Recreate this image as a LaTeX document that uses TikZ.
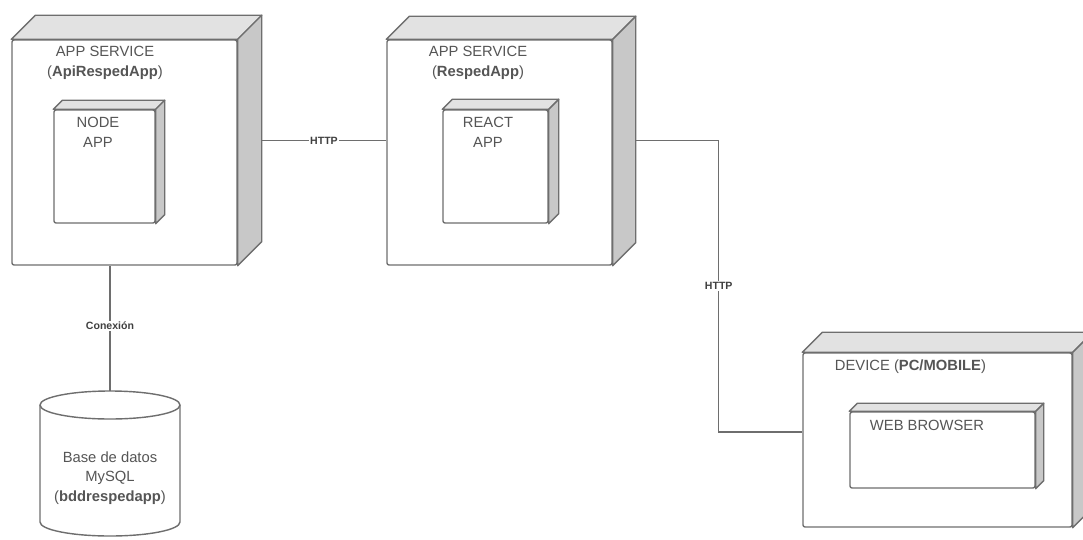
\documentclass[tikz,border=0pt]{standalone}
\usepackage{fontspec}
\setmainfont{Liberation Sans}

\definecolor{linegray}{RGB}{110,110,110}
\definecolor{topgray}{RGB}{226,226,226}
\definecolor{sidegray}{RGB}{200,200,200}
\definecolor{textgray}{RGB}{85,85,85}

\newcommand{\boxdepth}[2]{%
  \draw[boxline,fill=topgray] (#1.north west) -- ++(#2,#2) -- ([shift={(#2,#2)}]#1.north east) -- (#1.north east) -- cycle;
  \draw[boxline,fill=sidegray] (#1.north east) -- ++(#2,#2) -- ([shift={(#2,#2)}]#1.south east) -- (#1.south east) -- cycle;
}

\begin{document}
\begin{tikzpicture}[
  x=0.025cm, y=0.025cm,
  boxline/.style={draw=linegray, line width=1pt, line join=round},
  devbox/.style={
    rectangle,
    boxline,
    fill=white,
    rounded corners=1.5pt,
    inner sep=0pt
  },
  txt/.style={
    text=textgray,
    align=center,
    font=\fontsize{10.5}{14}\selectfont
  },
  wire/.style={draw=linegray, line width=0.8pt},
  wirelabel/.style={
    fill=white,
    inner sep=1pt,
    text=black!75,
    font=\fontsize{7.5}{9}\selectfont\bfseries
  }
]
  \useasboundingbox (0,0) rectangle (1083,-539);

  \node[devbox,minimum width=5.625cm,minimum height=5.625cm] (api) at (124.5,-152.5) {};
  \boxdepth{api}{24}
  \node[txt] (apititle) at (105,-63) {APP SERVICE\\(\textbf{ApiRespedApp})};
  \node[devbox,minimum width=2.525cm,minimum height=2.825cm] (nodeapp) at (104.5,-166.5) {};
  \boxdepth{nodeapp}{9}
  \node[txt] (nodeapptitle) at (98,-132.5) {NODE\\APP};

  \node[devbox,minimum width=5.625cm,minimum height=5.625cm] (resped) at (499.5,-152.5) {};
  \boxdepth{resped}{23}
  \node[txt] (respedtitle) at (478,-63) {APP SERVICE\\(\textbf{RespedApp})};
  \node[devbox,minimum width=2.625cm,minimum height=2.825cm] (reactapp) at (495.5,-166.5) {};
  \boxdepth{reactapp}{10}
  \node[txt] (reactapptitle) at (488,-132.5) {REACT\\APP};

  \node[devbox,minimum width=6.725cm,minimum height=4.35cm] (device) at (937.5,-440) {};
  \boxdepth{device}{20}
  \node[txt,anchor=west] (devicetitle) at (830,-367) {DEVICE (\textbf{PC/MOBILE})};
  \node[devbox,minimum width=4.625cm,minimum height=1.9cm] (browser) at (942.5,-450) {};
  \boxdepth{browser}{8}
  \node[txt,anchor=west] (browsertitle) at (865,-425) {WEB BROWSER};

  \draw[boxline,fill=white] (40,-405) -- (40,-522) arc[start angle=180,end angle=360,x radius=70,y radius=14] -- (180,-405);
  \draw[boxline,fill=white] (110,-405) ellipse [x radius=70,y radius=14];
  \node[txt] (db) at (110,-478) {Base de datos\\MySQL\\(\textbf{bddrespedapp})};
  \coordinate (dbtop) at (110,-391);

  \coordinate (apiside) at ([shift={(24,12)}]api.east);
  \coordinate (respedside) at ([shift={(23,12)}]resped.east);

  \draw[wire] (apiside) -- (resped.west |- apiside) node[wirelabel,pos=0.5] {HTTP};
  \draw[wire] (respedside) -- ++(83,0) |- ([yshift=0.2cm]device.west) node[wirelabel,pos=0.25] {HTTP};
  \draw[wire] (dbtop) -- (dbtop |- api.south) node[wirelabel,pos=0.52] {Conexión};
\end{tikzpicture}
\end{document}
